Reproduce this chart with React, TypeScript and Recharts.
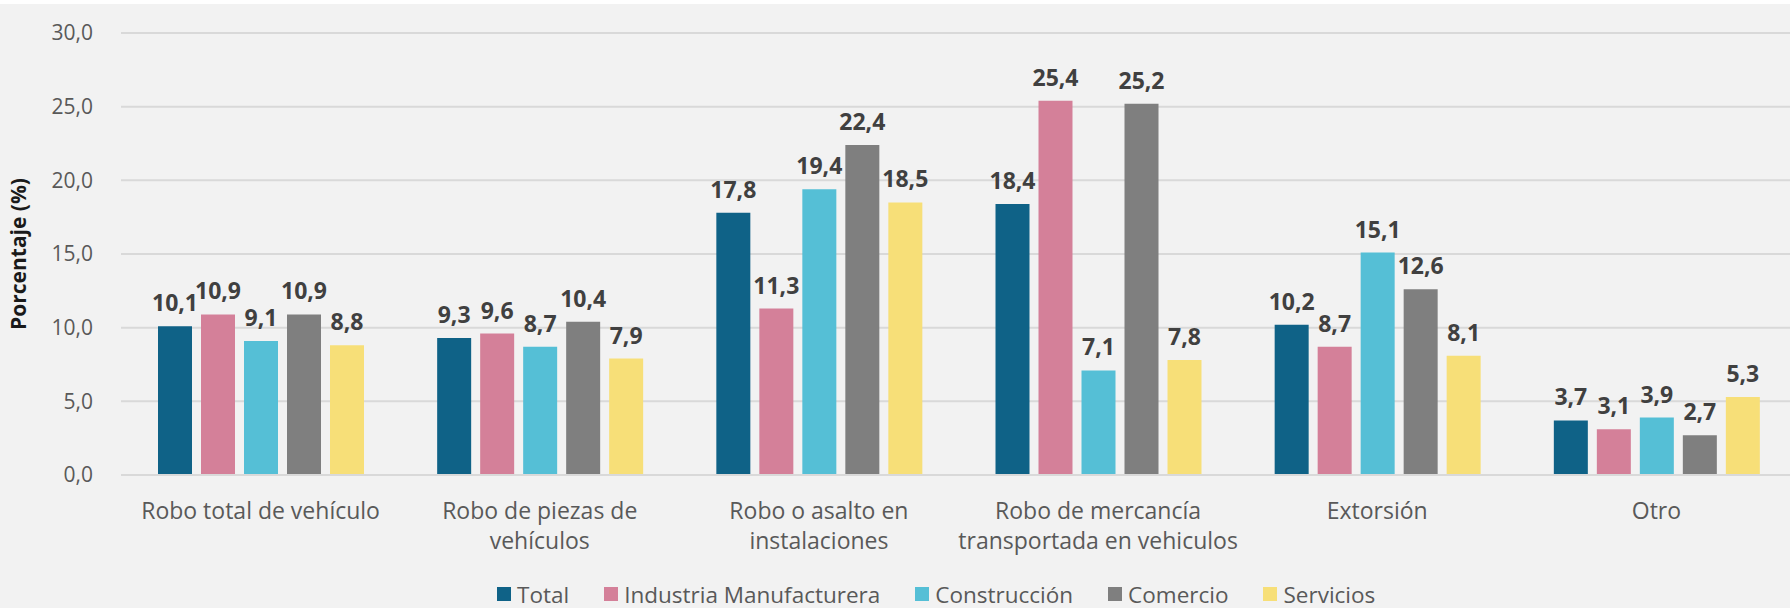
import React from 'react';
import {
  BarChart,
  Bar,
  XAxis,
  YAxis,
  CartesianGrid,
  Legend,
  LabelList
} from 'recharts';

const categories = [
  'Robo total de vehículo',
  'Robo de piezas de\nvehículos',
  'Robo o asalto en\ninstalaciones',
  'Robo de mercancía\ntransportada en vehiculos',
  'Extorsión',
  'Otro'
];

const total = [10.1, 9.3, 17.8, 18.4, 10.2, 3.7];
const industria = [10.9, 9.6, 11.3, 25.4, 8.7, 3.1];
const construccion = [9.1, 8.7, 19.4, 7.1, 15.1, 3.9];
const comercio = [10.9, 10.4, 22.4, 25.2, 12.6, 2.7];
const servicios = [8.8, 7.9, 18.5, 7.8, 8.1, 5.3];

const yTicks = [0, 5, 10, 15, 20, 25, 30];

const series = [
  { key: 'total', name: 'Total', color: '#0f6287' },
  { key: 'industria', name: 'Industria Manufacturera', color: '#d48099' },
  { key: 'construccion', name: 'Construcción', color: '#55bfd6' },
  { key: 'comercio', name: 'Comercio', color: '#7f7f7f' },
  { key: 'servicios', name: 'Servicios', color: '#f7df78' }
];

const data = categories.map((cat, i) => ({
  cat,
  total: total[i],
  industria: industria[i],
  construccion: construccion[i],
  comercio: comercio[i],
  servicios: servicios[i]
}));

const FONT = '"Open Sans", "Noto Sans", sans-serif';
const fmt = (v: number) => v.toFixed(1).replace('.', ',');

// eslint-disable-next-line @typescript-eslint/no-explicit-any
const CategoryTick = (props: any) => {
  const { x, y, payload } = props;
  const lines = String(payload.value).split('\n');
  return (
    <text x={x} y={y} textAnchor="middle" fill="#595959" fontSize={23} fontFamily={FONT}>
      {lines.map((line, i) => (
        <tspan key={i} x={x} dy={i === 0 ? 36 : 30}>
          {line}
        </tspan>
      ))}
    </text>
  );
};

const LegendContent = () => (
  <div
    style={{
      display: 'flex',
      justifyContent: 'flex-start',
      alignItems: 'center',
      height: 44,
      fontFamily: FONT,
      fontSize: 22.5,
      color: '#595959',
      paddingLeft: 497,
      paddingBottom: 8,
      boxSizing: 'border-box'
    }}
  >
    {series.map((s) => (
      <div key={s.key} style={{ display: 'flex', alignItems: 'center', marginRight: 35 }}>
        <span style={{ width: 14, height: 14, background: s.color, display: 'inline-block', marginRight: 6 }} />
        <span>{s.name}</span>
      </div>
    ))}
  </div>
);

export default function App() {
  return (
    <div style={{ position: 'absolute', left: 0, top: 0, width: 1790, height: 608, overflow: 'hidden', background: '#ffffff' }}>
      <div style={{ position: 'absolute', left: 0, top: 4, width: 1790, height: 604, background: '#f2f2f2' }} />
      <div style={{ position: 'absolute', left: 0, top: 0 }}>
        <BarChart
          width={1796}
          height={620}
          data={data}
          margin={{ top: 33, right: 0, left: 0, bottom: 0 }}
          barGap={9}
          barSize={34}
        >
          <CartesianGrid vertical={false} stroke="#d9d9d9" strokeWidth={2} />
          <XAxis
            dataKey="cat"
            axisLine={{ stroke: '#d9d9d9', strokeWidth: 2 }}
            tickLine={false}
            tick={<CategoryTick />}
            height={101}
            interval={0}
          />
          <YAxis
            domain={[0, 30]}
            ticks={yTicks}
            width={121}
            axisLine={false}
            tickLine={false}
            tickFormatter={fmt}
            tickMargin={22}
            tick={{ fill: '#595959', fontSize: 21, fontFamily: FONT }}
            label={{
              value: 'Porcentaje (%)',
              angle: -90,
              position: 'insideLeft',
              offset: 19,
              style: { textAnchor: 'middle', fill: '#1a1a1a', fontSize: 21, fontWeight: 700, fontFamily: FONT }
            }}
          />
          <Legend verticalAlign="bottom" content={<LegendContent />} />
          {series.map((s) => (
            <Bar key={s.key} dataKey={s.key} name={s.name} fill={s.color} isAnimationActive={false}>
              <LabelList
                dataKey={s.key}
                position="top"
                offset={15}
                formatter={(v: number) => fmt(v)}
                style={{ fill: '#404040', fontSize: 23, fontWeight: 700, fontFamily: FONT }}
              />
            </Bar>
          ))}
        </BarChart>
      </div>
    </div>
  );
}
